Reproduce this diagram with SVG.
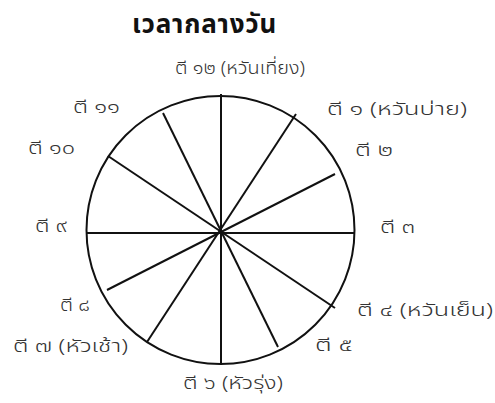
<svg xmlns="http://www.w3.org/2000/svg" width="495" height="403" viewBox="0 0 495 403">
<style>
.lbl{font-family:"Noto Sans Thai","Noto Sans","DejaVu Sans",sans-serif;font-size:18px;font-weight:300;fill:#333}
.title{font-family:"Noto Sans Thai","Noto Sans","DejaVu Sans",sans-serif;font-size:26px;letter-spacing:0.8px;font-weight:bold;fill:#111}
.ln{stroke:#111;stroke-width:2;fill:none}
</style>
<rect width="495" height="403" fill="#fff"/>
<text class="title" x="132" y="33">เวลากลางวัน</text>
<g id="clock">
<circle class="ln" cx="220.5" cy="230" r="134"/>
</g>
<g id="connectors">
<line class="ln" x1="221" y1="94" x2="221" y2="365"/>
<line class="ln" x1="87" y1="233" x2="354" y2="233"/>
<line class="ln" x1="296" y1="114" x2="147" y2="342"/>
<line class="ln" x1="163" y1="113" x2="278" y2="347"/>
<line class="ln" x1="108" y1="156" x2="335" y2="308"/>
<line class="ln" x1="335" y1="174" x2="107" y2="290"/>
</g>
<g id="h12"><text class="lbl" x="175" y="74" textLength="130" lengthAdjust="spacingAndGlyphs">ตี ๑๒ (หวันเที่ยง)</text></g>
<g id="h1"><text class="lbl" x="327" y="115" textLength="140" lengthAdjust="spacingAndGlyphs">ตี ๑ (หวันบ่าย)</text></g>
<g id="h2"><text class="lbl" x="355" y="156" textLength="38" lengthAdjust="spacingAndGlyphs">ตี ๒</text></g>
<g id="h3"><text class="lbl" x="380" y="233" textLength="35" lengthAdjust="spacingAndGlyphs">ตี ๓</text></g>
<g id="h4"><text class="lbl" x="357" y="316" textLength="136" lengthAdjust="spacingAndGlyphs">ตี ๔ (หวันเย็น)</text></g>
<g id="h5"><text class="lbl" x="315" y="351" textLength="38" lengthAdjust="spacingAndGlyphs">ตี ๕</text></g>
<g id="h6"><text class="lbl" x="183" y="389" textLength="100" lengthAdjust="spacingAndGlyphs">ตี ๖ (หัวรุ่ง)</text></g>
<g id="h7"><text class="lbl" x="13" y="352" textLength="115" lengthAdjust="spacingAndGlyphs">ตี ๗ (หัวเช้า)</text></g>
<g id="h8"><text class="lbl" x="60" y="311" textLength="30" lengthAdjust="spacingAndGlyphs">ตี ๘</text></g>
<g id="h9"><text class="lbl" x="35" y="232" textLength="32" lengthAdjust="spacingAndGlyphs">ตี ๙</text></g>
<g id="h10"><text class="lbl" x="28" y="154" textLength="47" lengthAdjust="spacingAndGlyphs">ตี ๑๐</text></g>
<g id="h11"><text class="lbl" x="73" y="113" textLength="47" lengthAdjust="spacingAndGlyphs">ตี ๑๑</text></g>
</svg>
